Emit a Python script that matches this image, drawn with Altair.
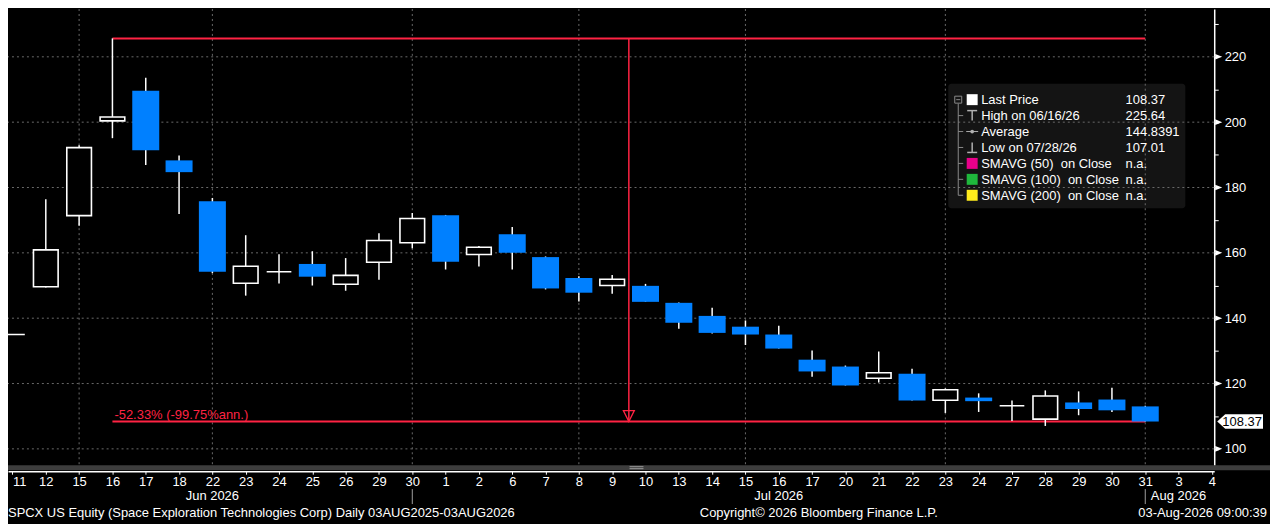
import json
import altair as alt
import pandas as pd

# ---------------- data ----------------
days = ["11", "12", "15", "16", "17", "18", "22", "23", "24", "25", "26", "29", "30",
        "1", "2", "6", "7", "8", "9", "10", "13", "14", "15", "16", "17", "20", "21",
        "22", "23", "24", "27", "28", "29", "30", "31", "3", "4"]
opens = [135.0, 149.6, 171.4, 200.4, 209.6, 188.3, 175.8, 150.7, 154.2, 156.6, 150.4,
         157.1, 163.1, 171.5, 159.5, 165.7, 158.7, 152.3, 150.0, 149.9, 144.7, 140.7,
         137.4, 135.0, 127.3, 125.2, 121.6, 123.0, 114.9, 115.7, 113.2, 109.1, 114.2,
         115.1, 113.0]
highs = [135.0, 176.4, 192.9, 225.64, 213.6, 189.8, 176.8, 165.4, 159.6, 160.5, 158.4,
         166.0, 172.2, 171.6, 162.1, 167.9, 158.9, 152.8, 153.2, 150.5, 144.8, 143.2,
         139.3, 137.7, 130.1, 125.5, 129.8, 124.5, 118.5, 117.0, 114.8, 117.9, 117.6,
         118.7, 113.2]
lows = [135.0, 149.4, 168.3, 195.1, 186.9, 171.9, 153.8, 146.9, 150.6, 150.0, 148.4,
        151.8, 161.4, 154.9, 155.8, 154.9, 148.8, 145.1, 147.5, 145.0, 136.8, 135.3,
        131.8, 130.7, 122.1, 119.4, 120.3, 114.8, 111.0, 111.3, 108.5, 107.01, 110.3,
        111.3, 108.37]
closes = [135.0, 160.9, 192.2, 201.6, 191.4, 184.7, 154.2, 155.9, 154.2, 152.7, 153.1,
          163.8, 170.5, 157.3, 161.7, 160.0, 149.1, 147.8, 151.9, 145.0, 138.6, 135.5,
          135.0, 130.7, 123.7, 119.4, 123.3, 114.8, 118.1, 114.6, 113.2, 116.2, 112.2,
          111.8, 108.37]

months = ["Jun 2026", "Jul 2026", "Aug 2026"]
month_pos = [6, 23, 35]
month_sep = [12, 34]
grid_x = [2, 6, 12, 17, 22, 28, 34]
grid_y = [100, 120, 140, 160, 180, 200, 220]
y_ticks = list(range(100, 231, 10))

high_val = 225.64
last_price = 108.37
start_idx, end_idx, arrow_idx = 3, 34, 18.5
pct_label = "-52.33% (-99.75%ann.)"

legend_labels = ["Last Price", "High on 06/16/26", "Average", "Low on 07/28/26",
                 "SMAVG (50)\u00a0\u00a0on Close", "SMAVG (100)\u00a0\u00a0on Close",
                 "SMAVG (200)\u00a0\u00a0on Close"]
legend_values = ["108.37", "225.64", "144.8391", "107.01", "n.a.", "n.a.", "n.a."]
legend_colors = ["#ffffff", None, None, None, "#e8008a", "#1fb83c", "#ffec1c"]

footer_left = "SPCX US Equity (Space Exploration Technologies Corp) Daily 03AUG2025-03AUG2026"
footer_mid = "Copyright\u00a9 2026 Bloomberg Finance L.P."
footer_right = "03-Aug-2026 09:00:39"

# ---------------- styling ----------------
FONT = "Liberation Sans, Arial, sans-serif"
RED = "#ff2343"
BLUE = "#0080ff"
GRID = "#6a6a6a"
W, H = 1211, 458

xscale = alt.Scale(domain=[-0.1345, 36.07], nice=False, zero=False)
yscale = alt.Scale(domain=[95.0, 234.63], nice=False, zero=False)

XAX = alt.Axis(values=list(range(len(days))),
               labelExpr=json.dumps(days) + "[datum.value]",
               labelAlign={"condition": {"test": "datum.value == 0", "value": "left"},
                           "value": "center"},
               offset=6, domainColor="white", domainWidth=1.5,
               tickColor="white", tickSize=3, tickWidth=1,
               labelColor="white", labelFontSize=13, labelFont=FONT,
               labelPadding=1, labelOverlap=False, labelFlush=False,
               grid=False, title=None)
YAX = alt.Axis(orient="right", values=y_ticks,
               labelExpr="datum.value % 20 == 0 ? datum.label : ''",
               domainColor="white", domainWidth=1.5,
               tickColor="white", tickSize=4, tickWidth=1,
               labelColor="white", labelFontSize=13, labelFont=FONT,
               labelPadding=6, labelBaseline="middle", labelAlign="left",
               labelOverlap=False, labelFlush=False, grid=False, title=None)


def X(field):
    return alt.X(field, type="quantitative", scale=xscale, axis=XAX)


def Y(field):
    return alt.Y(field, type="quantitative", scale=yscale, axis=YAX)


one = pd.DataFrame({"d": [0]})


def ptext(s, x, y, color="white", size=13, align="left", baseline="middle"):
    return alt.Chart(pd.DataFrame({"t": [s]})).mark_text(
        align=align, baseline=baseline, color=color, fontSize=size, font=FONT
    ).encode(x=alt.value(x), y=alt.value(y), text="t:N")


def prule(x, x2, y, y2, color, width=1.0):
    return alt.Chart(one).mark_rule(color=color, strokeWidth=width).encode(
        x=alt.value(x), x2=alt.value(x2), y=alt.value(y), y2=alt.value(y2))


def prect(x, x2, y, y2, color, radius=0):
    return alt.Chart(one).mark_rect(color=color, cornerRadius=radius).encode(
        x=alt.value(x), x2=alt.value(x2), y=alt.value(y), y2=alt.value(y2))


df = pd.DataFrame({"i": list(range(len(opens))), "open": opens, "high": highs,
                   "low": lows, "close": closes})
base = alt.Chart(df)

layers = []

# legend background
layers.append(prect(944, 1182, 75, 200, "#141414", radius=3))

# grid
layers.append(alt.Chart(pd.DataFrame({"v": grid_y})).mark_rule(
    color=GRID, strokeWidth=1, strokeDash=[2, 3]).encode(y=Y("v")))
layers.append(alt.Chart(pd.DataFrame({"v": grid_x})).mark_rule(
    color=GRID, strokeWidth=1, strokeDash=[2, 3]).encode(x=X("v")))

# gray separator band under the plot
layers.append(prect(0, W + 56, H, H + 5, "#3d3d3d"))
layers.append(prule(624, 638, H + 1.5, H + 1.5, "#9a9a9a"))
layers.append(prule(624, 638, H + 3.5, H + 3.5, "#9a9a9a"))

# red range annotation
ann = pd.DataFrame({"a": [start_idx], "b": [end_idx], "hi": [high_val],
                    "lo": [last_price], "m": [arrow_idx]})
annc = alt.Chart(ann)
layers.append(annc.mark_rule(color=RED, strokeWidth=2).encode(x=X("a"), x2="b:Q", y=Y("hi")))
layers.append(annc.mark_rule(color=RED, strokeWidth=2).encode(x=X("a"), x2="b:Q", y=Y("lo")))
layers.append(annc.mark_rule(color=RED, strokeWidth=1.5).encode(x=X("m"), y=Y("hi"), y2="lo:Q"))

# candles
layers.append(base.mark_rule(color="white", strokeWidth=1.5).encode(
    x=X("i"), y=Y("low"), y2="high:Q"))
layers.append(base.transform_filter("datum.close >= datum.open").transform_calculate(
    x0="datum.i - 0.37", x1="datum.i + 0.37").mark_rect(
    fill="black", stroke="white", strokeWidth=1.6).encode(
    x=X("x0"), x2="x1:Q", y=Y("open"), y2="close:Q"))
layers.append(base.transform_filter("datum.close < datum.open").transform_calculate(
    x0="datum.i - 0.405", x1="datum.i + 0.405").mark_rect(
    fill=BLUE, strokeWidth=0).encode(
    x=X("x0"), x2="x1:Q", y=Y("open"), y2="close:Q"))

# arrow head and percentage label
layers.append(annc.mark_point(
    shape="M -0.5 -1 L 0.5 -1 L 0 0 Z", size=484, filled=False,
    color=RED, strokeWidth=1.3, opacity=1).encode(x=X("m"), y=Y("lo")))
layers.append(annc.transform_calculate(t=f"'{pct_label}'").mark_text(
    align="left", baseline="alphabetic", dx=2, dy=-3, color=RED, fontSize=13,
    font=FONT).encode(x=X("a"), y=Y("lo"), text="t:N"))

# y-axis label markers
layers.append(alt.Chart(pd.DataFrame({"v": grid_y})).mark_point(
    shape="M -1 -0.8 L 1 0 L -1 0.8 Z", size=49, filled=True, color="white",
    opacity=1).encode(x=alt.value(W + 4.5), y=Y("v")))

# last price tag
lp = pd.DataFrame({"v": [last_price], "t": [f"{last_price:.2f}"]})
layers.append(alt.Chart(lp).mark_point(
    shape="M -1 0 L -0.65 -0.32 L 1 -0.32 L 1 0.32 L -0.65 0.32 Z", size=2116,
    filled=True, color="white", opacity=1).encode(x=alt.value(W + 26), y=Y("v")))
layers.append(alt.Chart(lp).mark_text(
    align="center", baseline="middle", color="black", fontSize=13, font=FONT).encode(
    x=alt.value(W + 28), y=Y("v"), text="t:N"))

# legend contents
TREE = "#8a8a8a"
ICON = "#b0b0b0"
ry = [91 + 16 * k for k in range(len(legend_labels))]
layers.append(alt.Chart(one).mark_rect(fill="#141414", stroke=TREE, strokeWidth=1).encode(
    x=alt.value(950.5), x2=alt.value(957.5), y=alt.value(ry[0] - 3.5), y2=alt.value(ry[0] + 3.5)))
layers.append(prule(952, 956, ry[0], ry[0], TREE))
layers.append(prule(954, 954, ry[0] + 4, ry[-1], TREE))
for k in range(1, len(ry)):
    layers.append(prule(954, 959, ry[k], ry[k], TREE))
for k, (lab, val, col) in enumerate(zip(legend_labels, legend_values, legend_colors)):
    y = ry[k]
    if col is not None:
        layers.append(prect(962.5, 973.5, y - 5.5, y + 5.5, col))
    layers.append(ptext(lab, 977, y + 0.5))
    layers.append(ptext(val, 1122, y + 0.5))
# High icon (T), Average icon (-o-), Low icon (inverted T)
layers.append(prule(963, 973, ry[1] - 5, ry[1] - 5, ICON, 1.5))
layers.append(prule(968, 968, ry[1] - 5, ry[1] + 5, ICON, 1.5))
layers.append(prule(962, 974, ry[2], ry[2], ICON, 1))
layers.append(alt.Chart(one).mark_point(shape="circle", size=14, filled=True, color=ICON,
                                        opacity=1).encode(x=alt.value(968), y=alt.value(ry[2])))
layers.append(prule(963, 973, ry[3] + 5, ry[3] + 5, ICON, 1.5))
layers.append(prule(968, 968, ry[3] - 5, ry[3] + 5, ICON, 1.5))

# month labels and separators
layers.append(alt.Chart(pd.DataFrame({"m": months, "p": month_pos})).mark_text(
    align="center", baseline="middle", color="white", fontSize=13, font=FONT).encode(
    x=X("p"), y=alt.value(489), text="m:N"))
layers.append(alt.Chart(pd.DataFrame({"s": month_sep})).mark_rule(
    color="#a0a0a0", strokeWidth=1).encode(x=X("s"), y=alt.value(482), y2=alt.value(497)))

# footer
layers.append(ptext(footer_left, 0, 506))
layers.append(ptext(footer_mid, 814, 506, align="center"))
layers.append(ptext(footer_right, W + 53, 506, align="right"))

chart = alt.layer(*layers).properties(
    width=W, height=H,
    autosize=alt.AutoSizeParams(type="none"),
    padding={"left": 0, "top": 0, "right": 56, "bottom": 58},
    background="black",
).configure_view(stroke=None)

chart.save("out.html", embed_options={"renderer": "svg", "actions": False})
